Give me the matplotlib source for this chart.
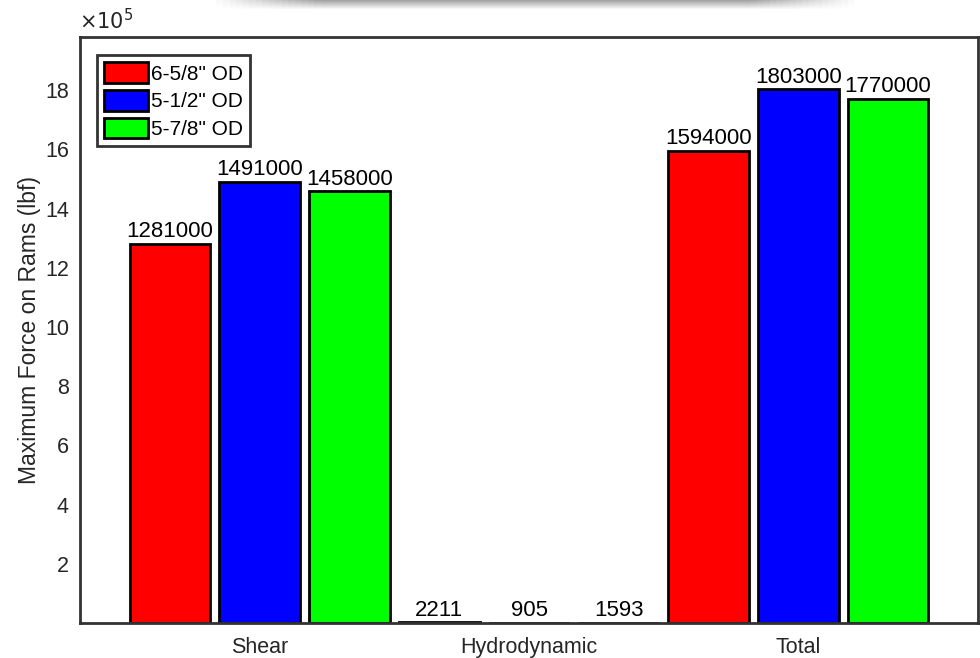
import numpy as np
import matplotlib.pyplot as plt
from matplotlib.patches import Patch

categories = ["Shear", "Hydrodynamic", "Total"]
series_names = ['6-5/8" OD', '5-1/2" OD', '5-7/8" OD']
od_658 = [1281000, 2211, 1594000]
od_512 = [1491000, 905, 1803000]
od_578 = [1458000, 1593, 1770000]
colors = ["#ff0000", "#0000ff", "#00ff00"]
ytick_vals = [2, 4, 6, 8, 10, 12, 14, 16, 18]

plt.rcParams['font.family'] = ['Liberation Sans', 'DejaVu Sans']

fig = plt.figure(figsize=(9.8, 6.58), dpi=100)
ax = fig.add_axes([80 / 980, 1 - 623 / 658, 898 / 980, 586 / 658])

x = np.arange(1, len(categories) + 1)
offsets = [-0.333, 0.0, 0.333]
width = 0.30
for vals, off, col in zip([od_658, od_512, od_578], offsets, colors):
    ax.bar(x + off, vals, width=width, color=col, edgecolor="black",
           linewidth=2, zorder=2)
    for xi, v in zip(x + off, vals):
        ax.text(xi, v + 6000, f"{v}", ha="center", va="bottom",
                fontsize=16, color="black", zorder=3)

ax.set_xlim(0.333, 3.667)
ax.set_ylim(0, 1.98e6)
ax.set_xticks(x)
ax.set_xticklabels(categories, fontsize=15.5, color="#262626")
ax.set_yticks([v * 1e5 for v in ytick_vals])
ax.set_yticklabels([str(v) for v in ytick_vals], fontsize=15.5, color="#262626")
ax.tick_params(axis="x", length=0, pad=10)
ax.tick_params(axis="y", length=0, pad=8)
ax.set_ylabel("Maximum Force on Rams (lbf)", fontsize=16.5, color="#262626",
              labelpad=3)
for sp in ax.spines.values():
    sp.set_linewidth(2)
    sp.set_color("#333333")

fig.text(79 / 980, 1 - 21 / 658, r"$\times10^5$", fontsize=15,
         color="#262626", ha="left", va="center")

handles = [Patch(facecolor=c, edgecolor="black", linewidth=2) for c in colors]
leg = ax.legend(handles, series_names, loc="upper left",
                bbox_to_anchor=(17 / 898, 1 - 18 / 586), fontsize=15,
                handlelength=2.1, handleheight=1.15, handletextpad=0.15,
                labelspacing=0.3, borderpad=0.35, borderaxespad=0,
                fancybox=False, framealpha=1)
leg.get_frame().set_edgecolor("#333333")
leg.get_frame().set_linewidth(2)

# soft shadow strip along the top edge
sax = fig.add_axes([210 / 980, 1 - 10 / 658, 650 / 980, 10 / 658])
grad = np.linspace(0.55, 0.0, 10)[:, None] * np.ones((1, 100))
horiz = np.clip(np.minimum(np.linspace(0, 6, 100), np.linspace(6, 0, 100)), 0, 1)
alpha = grad * horiz[None, :]
img = np.zeros((10, 100, 4))
img[..., :3] = 0.35
img[..., 3] = alpha
sax.imshow(img, aspect="auto", extent=[0, 1, 0, 1])
sax.axis("off")

fig.savefig("out.png", dpi=100, facecolor="white")
